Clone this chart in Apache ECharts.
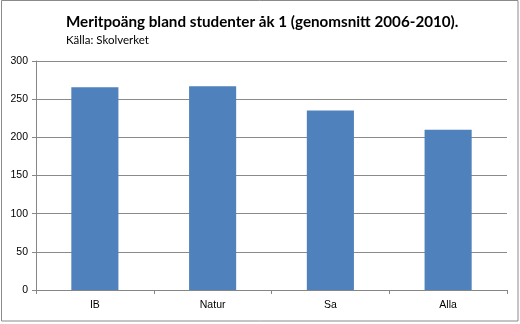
<!DOCTYPE html>
<html><head><meta charset="utf-8">
<script src="https://cdn.jsdelivr.net/npm/echarts@6/dist/echarts.min.js"></script>
<style>html,body{margin:0;padding:0;background:#fff}#c{width:520px;height:324px}</style>
</head><body><div id="c"></div>
<script>
const categories = ['IB', 'Natur', 'Sa', 'Alla'];
const values = [265.5, 267, 235, 210];
const yTicks = [0, 50, 100, 150, 200, 250, 300];
const titleText = 'Meritpoäng bland studenter åk 1 (genomsnitt 2006-2010).';
const subText = 'Källa: Skolverket';

const chart = echarts.init(document.getElementById('c'), null, {renderer: 'canvas'});
chart.setOption({
  animation: false,
  backgroundColor: '#fff',
  title: {
    text: titleText, subtext: subText, left: 61, top: 10, itemGap: 4,
    textStyle: {fontFamily: 'Lato', fontWeight: 'bold', fontSize: 15.2, color: '#000'},
    subtextStyle: {fontFamily: 'Lato', fontSize: 11.5, color: '#000'}
  },
  graphic: [{type: 'rect', shape: {x: 1.5, y: 0.5, width: 516.5, height: 320.5}, style: {fill: 'none', stroke: '#8a8a8a', lineWidth: 1}, silent: true}],
  grid: {left: 36, right: 13, top: 61, bottom: 34, containLabel: false},
  xAxis: {
    type: 'category', data: categories,
    axisLine: {lineStyle: {color: '#868686'}},
    axisTick: {show: true, length: 4, alignWithLabel: false, lineStyle: {color: '#868686'}},
    axisLabel: {fontFamily: 'Liberation Sans', fontSize: 10.5, color: '#000', margin: 10}
  },
  yAxis: {
    type: 'value', min: yTicks[0], max: yTicks[yTicks.length - 1], interval: 50,
    axisLine: {show: true, lineStyle: {color: '#868686'}},
    axisTick: {show: true, length: 4, lineStyle: {color: '#868686'}},
    axisLabel: {fontFamily: 'Liberation Sans', fontSize: 10.5, color: '#000', margin: 8},
    splitLine: {lineStyle: {color: '#8a8a8a'}}
  },
  series: [{
    type: 'bar', data: values, barWidth: '40%',
    itemStyle: {color: '#4f81bd'}
  }]
});
</script></body></html>
